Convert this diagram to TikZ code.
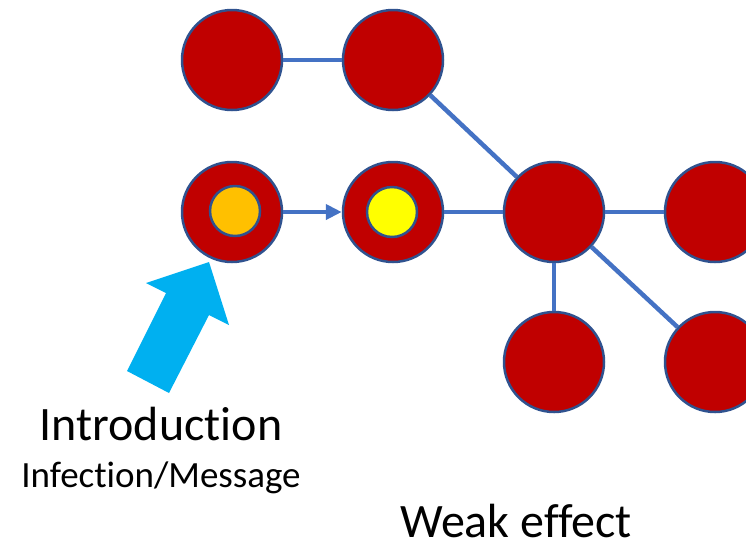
\documentclass[tikz,border=0pt]{standalone}
\usepackage{fontspec}
\setmainfont[Ligatures={NoCommon,NoRare,NoDiscretionary}]{Carlito}
\usetikzlibrary{arrows.meta}
\definecolor{nodered}{HTML}{C00000}
\definecolor{rimblue}{HTML}{2F528F}
\definecolor{linkblue}{HTML}{4472C4}
\definecolor{pushcyan}{HTML}{00B0F0}
\definecolor{seedorange}{HTML}{FFC000}
\definecolor{seedyellow}{HTML}{FFFF00}
\tikzset{
  person/.style={circle, draw=rimblue, line width=2.5pt, fill=nodered, minimum size=100pt, inner sep=0pt},
  seed/.style={circle, draw=rimblue, line width=2.5pt, minimum size=50pt, inner sep=0pt},
  link/.style={draw=linkblue, line width=4.5pt},
}
\begin{document}
\begin{tikzpicture}[x=1pt, y=-1pt]
\useasboundingbox (0,0) rectangle (746,547);
\clip (0,0) rectangle (746,547);
% network
\node[person] (ta) at (232,60) {};
\node[person] (tb) at (393,60) {};
\node[person] (src) at (232,212) {};
\node[person] (nxt) at (393,212) {};
\node[person] (hub) at (554,212) {};
\node[person] (rt) at (715,212) {};
\node[person] (bl) at (554,362) {};
\node[person] (br) at (715,362) {};
\node[seed, fill=seedorange] (s1) at (235,211) {};
\node[seed, fill=seedyellow] (s2) at (392,212) {};
\draw[link] (ta) -- (tb);
\draw[link] (tb) -- (hub);
\draw[link] (nxt) -- (hub);
\draw[link] (hub) -- (rt);
\draw[link] (hub) -- (bl);
\draw[link] (hub) -- (br);
\draw[link, -{Triangle[length=16pt, width=15pt]}] (src) -- (nxt);
% entry arrow
\fill[pushcyan] (209,262) -- (229,325) -- (209,315) -- (169,393) -- (127,371) -- (166,293) -- (146,283) -- cycle;
% labels
\node[anchor=base, font=\fontsize{48}{56}\selectfont, inner sep=0pt] (intro) at (161,440) {Introduction};
\node[anchor=base, font=\fontsize{37}{42}\selectfont, inner sep=0pt] (kind) at (161,487) {Infection/Message};
\node[anchor=base, font=\fontsize{48}{56}\selectfont, inner sep=0pt, text depth=0pt] (weak) at (516,537) {Weak effect};
\end{tikzpicture}
\end{document}
